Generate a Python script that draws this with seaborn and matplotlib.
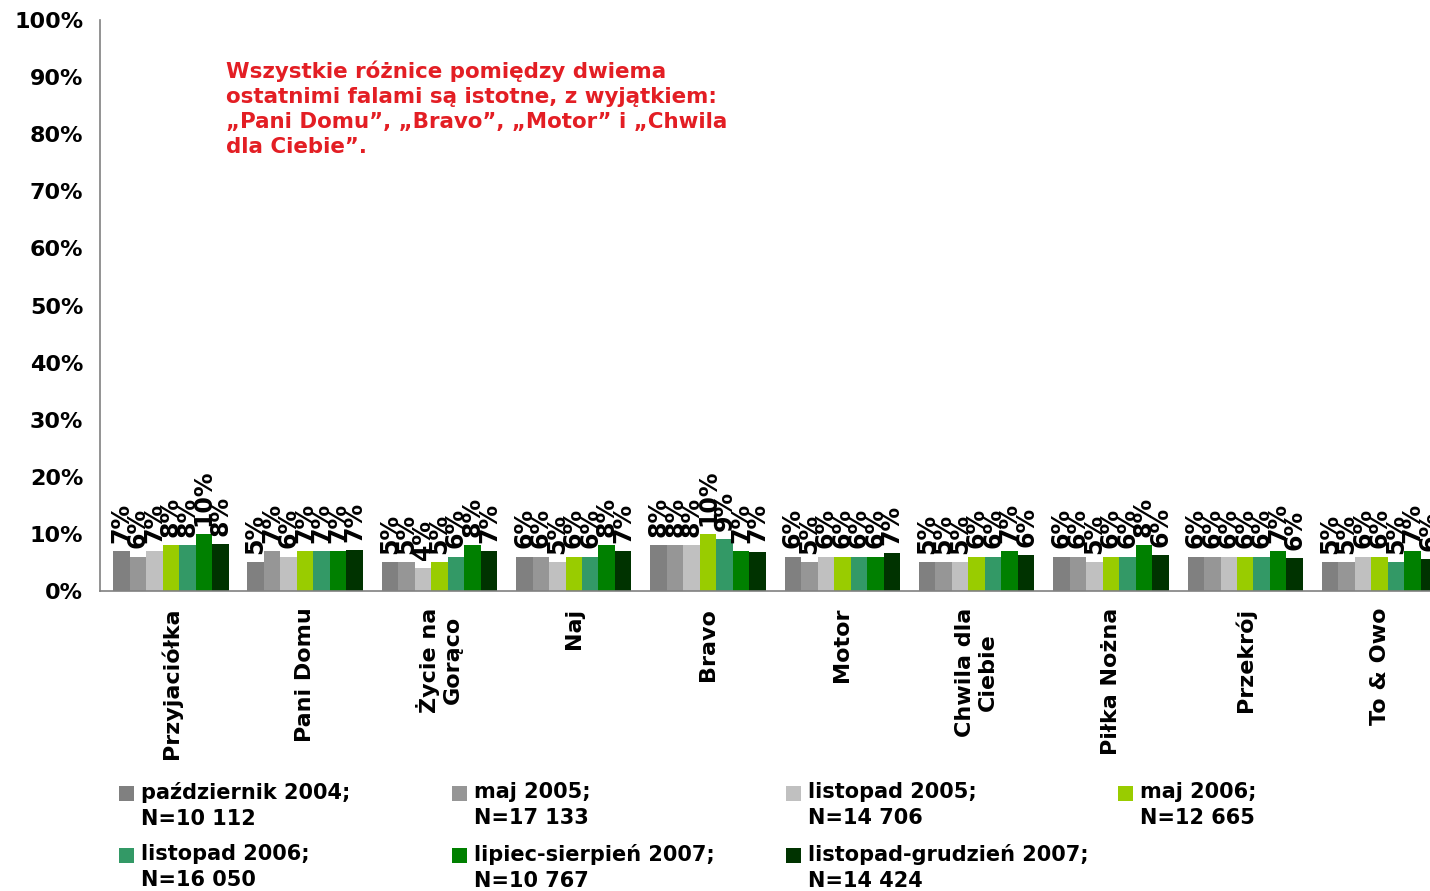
import matplotlib
matplotlib.use("Agg")
import matplotlib.pyplot as plt
from matplotlib.patches import Rectangle
import numpy as np
import pandas as pd
import seaborn as sns

categories = ["Przyjaciółka", "Pani Domu", "Życie na\nGorąco", "Naj", "Bravo",
              "Motor", "Chwila dla\nCiebie", "Piłka Nożna", "Przekrój", "To & Owo"]
waves = ["październik 2004;\nN=10 112", "maj 2005;\nN=17 133",
         "listopad 2005;\nN=14 706", "maj 2006;\nN=12 665",
         "listopad 2006;\nN=16 050", "lipiec-sierpień 2007;\nN=10 767",
         "listopad-grudzień 2007;\nN=14 424"]

paz_2004 = [7.0, 5.1, 5.1, 6.0, 8.0, 6.0, 5.1, 6.0, 6.0, 5.1]
maj_2005 = [6.0, 7.0, 5.1, 6.0, 8.0, 5.1, 5.1, 6.0, 6.0, 5.1]
lis_2005 = [7.0, 6.0, 4.0, 5.1, 8.0, 6.0, 5.1, 5.1, 6.0, 6.0]
maj_2006 = [8.0, 7.0, 5.1, 6.0, 10.0, 6.0, 6.0, 6.0, 6.0, 6.0]
lis_2006 = [8.0, 7.0, 6.0, 6.0, 9.1, 6.0, 6.0, 6.0, 6.0, 5.1]
lip_2007 = [10.0, 7.0, 8.0, 8.0, 7.0, 6.0, 7.0, 8.0, 7.0, 7.0]
lis_2007 = [8.2, 7.2, 7.0, 7.0, 6.9, 6.6, 6.3, 6.3, 5.8, 5.6]

series = [paz_2004, maj_2005, lis_2005, maj_2006, lis_2006, lip_2007, lis_2007]
colors = ["#808080", "#969696", "#C0C0C0", "#99CC00", "#339966", "#008000", "#003300"]

rows = []
for w, vals in zip(waves, series):
    for c, v in zip(categories, vals):
        rows.append({"cat": c, "wave": w, "val": v})
df = pd.DataFrame(rows)

sns.set_style("white")
plt.rcParams["font.family"] = ["DejaVu Sans"]
plt.rcParams["text.color"] = "black"
plt.rcParams["xtick.color"] = "black"
plt.rcParams["ytick.color"] = "black"

W, H = 1430, 891
fig = plt.figure(figsize=(W / 100, H / 100), dpi=100)
# category width ~134.3 px, first boundary ~3.7 px right of the value axis
ax = fig.add_axes([100 / W, 1 - 591 / H, 1346.7 / W, 571 / H])

sns.barplot(data=df, x="cat", y="val", hue="wave", palette=colors, width=0.86,
            order=categories, hue_order=waves, ax=ax, saturation=1, legend=False,
            linewidth=0, edgecolor="none")

for cont in ax.containers:
    labs = [f"{round(b.get_height())}%" for b in cont]
    ax.bar_label(cont, labels=labs, rotation=90, padding=6, fontsize=17,
                 fontweight="bold", color="black")

ax.set_ylim(0, 100)
ax.set_xlim(-0.5 - 3.7 / 134.3, len(categories) - 0.5)
ax.set_yticks(np.arange(0, 101, 10))
ax.set_yticklabels([f"{v}%" for v in range(0, 101, 10)], fontsize=16, fontweight="bold")
ax.set_xticks(range(len(categories)))
ax.set_xticklabels(categories, rotation=90, fontsize=16, fontweight="bold",
                   va="top", ha="center", multialignment="center")
ax.set_xticks(np.arange(0.5, len(categories), 1), minor=True)
ax.tick_params(axis="x", which="major", length=0, pad=12)
ax.tick_params(axis="x", which="minor", length=8, width=1.2, color="#808080", direction="out")
ax.tick_params(axis="y", length=8, width=1.2, color="#808080", direction="out", pad=4)
ax.set_xlabel("")
ax.set_ylabel("")
for s in ["top", "right"]:
    ax.spines[s].set_visible(False)
for s in ["left", "bottom"]:
    ax.spines[s].set_color("#808080")
    ax.spines[s].set_linewidth(1.2)

# legend: 4 columns, square aligned with the first line of each label
col_x = [119, 452, 786, 1118]
row_y = [786, 848]
for i, (lab, col) in enumerate(zip(waves, colors)):
    x = col_x[i % 4]
    y = row_y[i // 4]
    fig.patches.append(Rectangle((x / W, 1 - (y + 15) / H), 15 / W, 15 / H,
                                 transform=fig.transFigure, facecolor=col,
                                 edgecolor="none"))
    fig.text((x + 22) / W, 1 - (y - 4) / H, lab, fontsize=15, fontweight="bold",
             va="top", ha="left", linespacing=1.35)

fig.text(226 / W, 1 - 60 / H,
         "Wszystkie różnice pomiędzy dwiema\nostatnimi falami są istotne, z wyjątkiem:\n"
         "„Pani Domu”, „Bravo”, „Motor” i „Chwila\ndla Ciebie”.",
         color="#E31E24", fontsize=15.4, fontweight="bold", va="top", ha="left",
         linespacing=1.32)

fig.savefig("out.png", dpi=100)
